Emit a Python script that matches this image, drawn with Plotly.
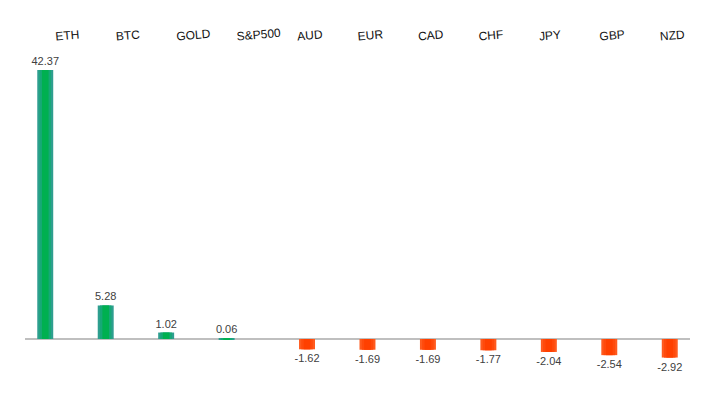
import plotly.graph_objects as go

# weekly change (%) per asset
assets = ["ETH", "BTC", "GOLD", "S&P500", "AUD", "EUR", "CAD", "CHF", "JPY", "GBP", "NZD"]
changes = [42.37, 5.28, 1.02, 0.06, -1.62, -1.69, -1.69, -1.77, -2.04, -2.54, -2.92]

gains = [v if v >= 0 else None for v in changes]
losses = [v if v < 0 else None for v in changes]

fig = go.Figure()

# fake a soft horizontal gradient by stacking narrower bars on top of each other
pos_layers = [("#2E9E8F", 0.264), ("#17A877", 0.19), ("#00B050", 0.11)]
neg_layers = [("#FF5A1E", 0.264), ("#FF4A0C", 0.19), ("#FF4000", 0.11)]

for n, (col, w) in enumerate(pos_layers):
    fig.add_trace(go.Bar(
        x=assets, y=gains, width=w, offset=-0.165 - w / 2,
        marker=dict(color=col, line=dict(width=0)),
        text=[f"{v:.2f}" if v is not None else "" for v in gains] if n == 0 else None,
        textposition="outside", cliponaxis=False, constraintext="none",
        textfont=dict(family="Liberation Sans", size=11, color="#404040"),
        showlegend=False, hoverinfo="skip" if n else None,
    ))

for n, (col, w) in enumerate(neg_layers):
    fig.add_trace(go.Bar(
        x=assets, y=losses, width=w, offset=0.165 - w / 2,
        marker=dict(color=col, line=dict(width=0)),
        text=[f"{v:.2f}" if v is not None else "" for v in losses] if n == 0 else None,
        textposition="outside", cliponaxis=False, constraintext="none",
        textfont=dict(family="Liberation Sans", size=11, color="#404040"),
        showlegend=False, hoverinfo="skip" if n else None,
    ))

# the page body has an 8px default margin, so margins are shifted to compensate
fig.update_layout(
    width=716, height=412,
    margin=dict(l=17, r=34, t=52, b=30),
    barmode="overlay",
    plot_bgcolor="white", paper_bgcolor="white",
    xaxis=dict(
        type="category", side="top", tickangle=-5,
        showline=False, showgrid=False, ticks="",
        ticklabelstandoff=16, automargin=False,
        tickfont=dict(family="Liberation Sans", size=12, color="#111111"),
    ),
    yaxis=dict(
        range=[-8.03, 43.94], showticklabels=False, showgrid=False,
        zeroline=True, zerolinecolor="#BFBFBF", zerolinewidth=2, showline=False,
        automargin=False,
    ),
)

fig.write_html("out.html")
